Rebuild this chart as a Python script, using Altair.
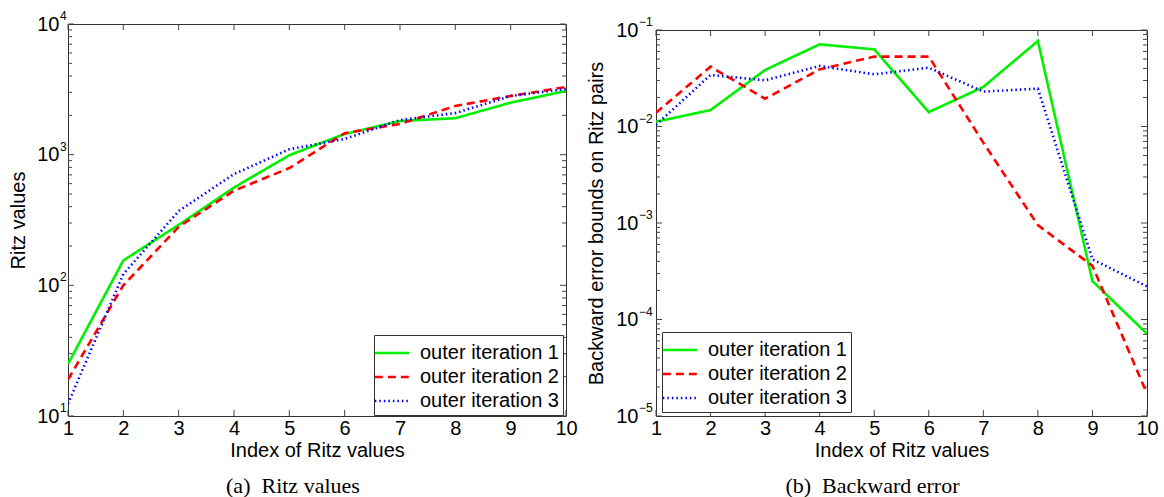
import altair as alt
import pandas as pd

# ---------------- data ----------------
IDX = [1, 2, 3, 4, 5, 6, 7, 8, 9, 10]
SERIES = ["outer iteration 1", "outer iteration 2", "outer iteration 3"]

RITZ_1 = [25, 155, 290, 560, 990, 1440, 1810, 1900, 2500, 3070]
RITZ_2 = [19, 100, 280, 530, 790, 1460, 1720, 2360, 2810, 3300]
RITZ_3 = [12.4, 122, 370, 710, 1100, 1320, 1840, 2080, 2810, 3180]

BERR_1 = [0.0112, 0.0148, 0.0385, 0.071, 0.063, 0.0141, 0.0257, 0.077, 2.5e-4, 7.1e-5]
BERR_2 = [0.0139, 0.0417, 0.0194, 0.0391, 0.053, 0.053, 0.0068, 9.5e-4, 3.6e-4, 1.7e-5]
BERR_3 = [0.0104, 0.0342, 0.0301, 0.0424, 0.0347, 0.0407, 0.023, 0.0247, 4.2e-4, 2.2e-4]

RITZ_MAJOR = [10, 100, 1000, 10000]
RITZ_EXP = ["1", "2", "3", "4"]
RITZ_MINOR = [20, 30, 40, 50, 60, 70, 80, 90,
              200, 300, 400, 500, 600, 700, 800, 900,
              2000, 3000, 4000, 5000, 6000, 7000, 8000, 9000]

BERR_MAJOR = [1e-5, 1e-4, 1e-3, 1e-2, 1e-1]
BERR_EXP = ["\u22125", "\u22124", "\u22123", "\u22122", "\u22121"]
BERR_MINOR = [2e-5, 3e-5, 4e-5, 5e-5, 6e-5, 7e-5, 8e-5, 9e-5,
              2e-4, 3e-4, 4e-4, 5e-4, 6e-4, 7e-4, 8e-4, 9e-4,
              2e-3, 3e-3, 4e-3, 5e-3, 6e-3, 7e-3, 8e-3, 9e-3,
              2e-2, 3e-2, 4e-2, 5e-2, 6e-2, 7e-2, 8e-2, 9e-2]

COLORS = ["#00f000", "#ff0000", "#0000ff"]
DASHES = [[1, 0], [8, 5], [1.5, 3]]
WIDTHS = [2.6, 2.6, 2.0]

FONT = "Liberation Sans"
SERIF = "Liberation Serif"


def long_df(a, b, c):
    rows = []
    for name, vals in zip(SERIES, [a, b, c]):
        for i, v in zip(IDX, vals):
            rows.append({"idx": i, "val": v, "series": name})
    return pd.DataFrame(rows)


def panel(df, ytitle, ydomain, major, exps, minor, W, H, lab_pad, exp_x,
          ytitle_pad, legx, legy, caption):
    X = alt.X("idx:Q",
              scale=alt.Scale(domain=[1, 10], nice=False, zero=False),
              axis=alt.Axis(values=IDX, title="Index of Ritz values", grid=False,
                            ticks=False, domain=False, labelFlush=False,
                            labelOverlap=False, labelPadding=2, titlePadding=2))
    Y = alt.Y("val:Q",
              scale=alt.Scale(type="log", domain=ydomain, nice=False),
              axis=alt.Axis(values=major, labelExpr="'10'", title=ytitle,
                            grid=False, ticks=False, domain=False,
                            labelFlush=False, labelOverlap=False,
                            labelPadding=lab_pad, titlePadding=ytitle_pad))

    lines = alt.Chart(df).mark_line(clip=True).encode(
        x=X, y=Y,
        color=alt.Color("series:N",
                        scale=alt.Scale(domain=SERIES, range=COLORS),
                        legend=alt.Legend(title=None, orient="none",
                                          legendX=legx, legendY=legy,
                                          symbolType="M-1.4,0H1.4", symbolSize=600,
                                          symbolStrokeWidth=2.4,
                                          symbolFillColor="transparent",
                                          labelFont=FONT, labelFontSize=20,
                                          labelColor="black",
                                          fillColor="white", strokeColor="#333",
                                          padding=4, rowPadding=0, labelOffset=14)),
        strokeDash=alt.StrokeDash("series:N",
                                  scale=alt.Scale(domain=SERIES, range=DASHES),
                                  legend=alt.Legend(title=None, orient="none",
                                                    legendX=legx, legendY=legy)),
        strokeWidth=alt.StrokeWidth("series:N",
                                    scale=alt.Scale(domain=SERIES, range=WIDTHS),
                                    legend=None),
    )

    xt = pd.DataFrame({"idx": IDX})
    ytM = pd.DataFrame({"val": major})
    ytm = pd.DataFrame({"val": minor})
    tcol = "#444"
    xt_bot = alt.Chart(xt).mark_rule(color=tcol).encode(x=X, y=alt.value(H), y2=alt.value(H - 6))
    xt_top = alt.Chart(xt).mark_rule(color=tcol).encode(x=X, y=alt.value(0), y2=alt.value(6))
    yM_l = alt.Chart(ytM).mark_rule(color=tcol).encode(y=Y, x=alt.value(0), x2=alt.value(6))
    yM_r = alt.Chart(ytM).mark_rule(color=tcol).encode(y=Y, x=alt.value(W), x2=alt.value(W - 6))
    ym_l = alt.Chart(ytm).mark_rule(color=tcol).encode(y=Y, x=alt.value(0), x2=alt.value(4))
    ym_r = alt.Chart(ytm).mark_rule(color=tcol).encode(y=Y, x=alt.value(W), x2=alt.value(W - 4))

    expdf = pd.DataFrame({"val": major, "exp": exps})
    exp_txt = alt.Chart(expdf).mark_text(align="left", baseline="middle", dy=-8,
                                         fontSize=12, font=FONT, color="black").encode(
        y=Y, x=alt.value(exp_x), text="exp:N")

    return alt.layer(ym_l, ym_r, yM_l, yM_r, xt_bot, xt_top, lines, exp_txt).properties(
        width=W, height=H,
        title=alt.TitleParams(caption, orient="bottom", font=SERIF, fontSize=22,
                              fontWeight="normal", offset=16, anchor="middle",
                              frame="bounds", color="black"),
    )


left = panel(long_df(RITZ_1, RITZ_2, RITZ_3), "Ritz values", [10, 10000],
             RITZ_MAJOR, RITZ_EXP, RITZ_MINOR, 498, 392, 9, -8, 8,
             306, 311, "(a)\u00a0 Ritz values")
right = panel(long_df(BERR_1, BERR_2, BERR_3), "Backward error bounds on Ritz pairs",
              [1e-5, 1e-1], BERR_MAJOR, BERR_EXP, BERR_MINOR, 491, 386, 18, -17, 9,
              6, 308, "(b)\u00a0 Backward error")

spacer = alt.Chart(pd.DataFrame({"s": [0]})).mark_point(size=1, opacity=0).encode(
    x=alt.value(0), y=alt.value(0)
).properties(width=1, height=6, view=alt.ViewConfig(stroke="transparent"))

right_col = alt.vconcat(spacer, right, spacing=0, bounds="flush")

chart = alt.hconcat(left, right_col, spacing=8).resolve_legend(
    color="independent", strokeDash="independent", strokeWidth="independent"
).properties(
    padding={"left": 8, "top": 9, "right": 0, "bottom": 0}
).configure_view(stroke="#333", strokeWidth=1).configure_axis(
    labelFont=FONT, titleFont=FONT, labelFontSize=20, titleFontSize=20,
    titleFontWeight="normal", labelColor="black", titleColor="black"
)

chart.save("out.html", embed_options={"renderer": "svg", "actions": False})
